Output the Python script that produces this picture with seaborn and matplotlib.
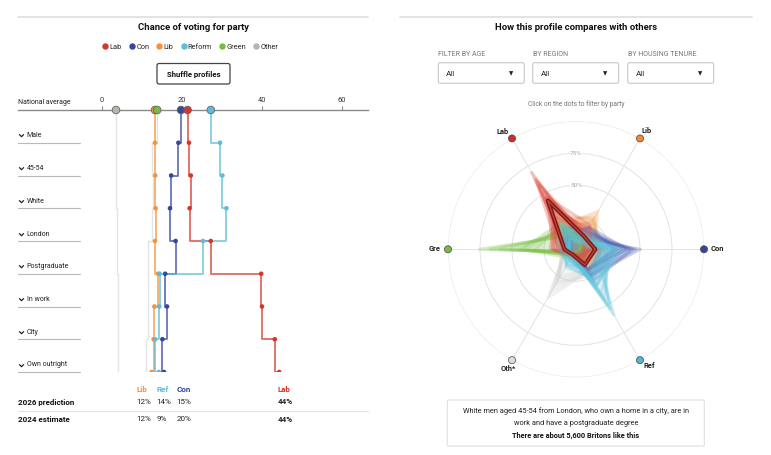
import numpy as np
import pandas as pd
import matplotlib
matplotlib.use("Agg")
import matplotlib.pyplot as plt
import seaborn as sns
from matplotlib.patches import FancyBboxPatch
from matplotlib.lines import Line2D
from matplotlib.path import Path

W, H = 771, 455

COLORS = {"Lab": "#d7352b", "Con": "#3546a0", "Lib": "#f5923a",
          "Reform": "#5bbdd6", "Green": "#76bd43", "Other": "#b9b5ab"}
FADED = "#e4e4e4"

# left chart: chance of voting, national average then each added trait
rows = ["National average", "Male", "45-54", "White", "London",
        "Postgraduate", "In work", "City", "Own outright"]
lab = [21.4, 21.75, 22.2, 21.9, 27.2, 39.8, 40.0, 43.2, 44.3]
con = [19.75, 19.1, 17.3, 17.0, 18.4, 15.8, 16.25, 15.1, 15.5]
lib = [13.25, 13.25, 13.3, 13.4, 13.25, 14.0, 13.1, 12.9, 12.4]
reform = [27.2, 29.5, 30.1, 31.1, 25.25, 14.4, 14.3, 13.3, 14.2]
green = [13.8, 12.4, 12.8, 12.5, 11.6, 11.4, 11.5, 11.0, 10.0]
other = [3.5, 3.6, 3.6, 3.7, 3.8, 3.9, 3.9, 3.9, 3.8]

# summary table under the chart
table_parties = ["Lib", "Ref", "Con", "Lab"]
table_colors = [COLORS["Lib"], COLORS["Reform"], COLORS["Con"], COLORS["Lab"]]
pred_2026 = [12, 14, 15, 44]
est_2024 = [12, 9, 20, 44]

# radar: axis order counter-clockwise from the right
radar_axes = ["Con", "Lib", "Lab", "Gre", "Oth*", "Ref"]
radar_angles = [0, 60, 120, 180, 240, 300]
radar_colors = ["#3546a0", "#f0892f", "#cc2f25", "#76bd43", "#dedede", "#4fb7d0"]
profile = [15, 12, 44, 9, 5, 14]

# rough sample of other profiles, grouped by leading party (Con, Lib, Lab, Gre, Oth, Ref)
cloud_oth = [[8, 6, 14, 8, 44, 20], [10, 7, 16, 8, 38, 20], [12, 8, 18, 9, 33, 20],
             [14, 10, 18, 10, 28, 20], [12, 9, 22, 12, 25, 18], [16, 10, 14, 8, 30, 24]]
cloud_lib = [[14, 34, 22, 8, 4, 10], [16, 30, 24, 8, 4, 12], [18, 27, 22, 9, 5, 14],
             [20, 24, 20, 10, 6, 16], [16, 22, 26, 12, 6, 12], [22, 26, 16, 8, 6, 18],
             [12, 28, 30, 10, 5, 8]]
cloud_con = [[50, 10, 8, 4, 4, 24], [46, 12, 10, 4, 5, 23], [42, 14, 12, 5, 5, 22],
             [38, 16, 14, 6, 6, 20], [35, 18, 16, 6, 6, 19], [32, 16, 20, 8, 6, 18],
             [30, 20, 18, 8, 6, 18], [44, 16, 8, 4, 4, 28], [40, 20, 12, 5, 5, 18]]
cloud_gre = [[3, 5, 12, 76, 2, 2], [4, 6, 13, 68, 3, 3], [5, 7, 15, 60, 3, 4],
             [6, 8, 17, 52, 4, 5], [7, 9, 19, 45, 5, 6], [8, 10, 21, 38, 6, 8],
             [10, 12, 22, 32, 6, 10], [6, 8, 24, 42, 8, 6]]
cloud_lab = [[6, 8, 70, 6, 4, 6], [8, 10, 64, 8, 4, 6], [8, 12, 58, 10, 4, 8],
             [10, 14, 52, 12, 5, 7], [12, 16, 47, 10, 5, 10], [10, 12, 44, 18, 6, 10],
             [14, 18, 40, 14, 5, 9], [16, 14, 36, 16, 6, 12], [12, 20, 34, 20, 6, 8],
             [18, 16, 30, 18, 7, 11], [6, 14, 62, 14, 4, 4], [12, 22, 48, 8, 4, 6],
             [20, 12, 28, 12, 8, 20]]
cloud_ref = [[14, 6, 8, 4, 6, 60], [18, 6, 8, 4, 6, 54], [22, 7, 9, 5, 7, 50],
             [26, 8, 10, 5, 7, 44], [30, 8, 10, 5, 8, 39], [32, 9, 12, 6, 8, 33],
             [28, 10, 14, 6, 10, 32], [24, 10, 16, 8, 14, 28], [34, 12, 14, 6, 8, 26],
             [20, 12, 18, 8, 16, 26], [26, 14, 20, 10, 10, 20], [22, 12, 22, 12, 14, 18],
             [30, 16, 18, 8, 10, 22], [18, 14, 24, 14, 12, 22], [36, 10, 10, 6, 6, 32]]

sns.set_theme(style="white")
plt.rcParams["font.family"] = ["Roboto", "DejaVu Sans"]

fig = plt.figure(figsize=(W / 100, H / 100), dpi=100)

# overlay in pixel coordinates for the page furniture
ov = fig.add_axes([0, 0, 1, 1])
ov.set_xlim(0, W)
ov.set_ylim(H, 0)
ov.axis("off")

ov.plot([18, 368], [17, 17], color="#dedede", lw=1.2)
ov.plot([400, 752], [17, 17], color="#dedede", lw=1.2)

ov.text(193, 27, "Chance of voting for party", ha="center", va="center",
        fontsize=6.8, weight="bold", color="#111")
handles = [Line2D([], [], marker="o", ls="", color=COLORS[p], markersize=3.6) for p in COLORS]
ov.legend(handles, list(COLORS), loc="center", bbox_to_anchor=(190, 47),
          bbox_transform=ov.transData, ncol=6, frameon=False, fontsize=5.3,
          handletextpad=0.05, columnspacing=0.9, handlelength=1,
          borderaxespad=0, borderpad=0)
ov.add_patch(FancyBboxPatch((157, 63.5), 73, 20.5, boxstyle="round,pad=0,rounding_size=2",
                            fc="white", ec="#444", lw=0.9))
ov.text(193.5, 74, "Shuffle profiles", ha="center", va="center", fontsize=5.6,
        weight="bold", color="#111")

# ---- left step chart
ax = fig.add_axes([18 / W, 1 - 372 / H, 350 / W, 262 / H])
ax.set_facecolor("none")

series = {"Lab": lab, "Con": con, "Lib": lib, "Reform": reform,
          "Green": green, "Other": other}
df = pd.concat([pd.DataFrame({"party": k, "row": range(len(rows)), "value": v})
                for k, v in series.items()], ignore_index=True)
faded = df[df.party.isin(["Green", "Other"])]
main = df[df.party.isin(["Lib", "Reform", "Con", "Lab"])]

sns.lineplot(data=faded, x="value", y="row", hue="party",
             palette={"Green": FADED, "Other": FADED}, orient="y", sort=False,
             estimator=None, drawstyle="steps-pre", lw=1, legend=False, ax=ax)
sns.lineplot(data=main, x="value", y="row", hue="party", palette=COLORS,
             orient="y", sort=False, estimator=None, drawstyle="steps-pre",
             lw=1.3, alpha=0.75, legend=False, ax=ax)
sns.scatterplot(data=main[main.row > 0], x="value", y="row", hue="party",
                palette=COLORS, s=11, linewidth=0, legend=False, ax=ax, zorder=4)
nat = df[df.row == 0].set_index("party").loc[["Other", "Lib", "Green", "Con", "Lab", "Reform"]].reset_index()
sns.scatterplot(data=nat, x="value", y="row", hue="party", palette=COLORS, s=30,
                edgecolor="#666", linewidth=0.6, legend=False, clip_on=False,
                ax=ax, zorder=5)

ax.set_xlim(-21, 66.5)
ax.set_ylim(8, 0)
for s in ["left", "right", "bottom"]:
    ax.spines[s].set_visible(False)
ax.spines["top"].set_color("#8a8a8a")
ax.spines["top"].set_linewidth(1)
ax.xaxis.tick_top()
ax.set_xticks([0, 20, 40, 60])
ax.tick_params(axis="x", direction="out", length=3, width=0.8, color="#8a8a8a",
               labelsize=5.4, labelcolor="#333", pad=1.5)
ax.set_yticks([])
ax.set_xlabel("")
ax.set_ylabel("")

chevron = Path([(-1, 0.5), (0, -0.5), (1, 0.5)], [Path.MOVETO, Path.LINETO, Path.LINETO])
ov.text(18, 103, rows[0], ha="left", va="center", fontsize=5, color="#222")
for i in range(1, len(rows)):
    y = 110 + i * 262 / 8
    ov.plot(21.3, y - 7.5, marker=chevron, ms=3.4, mfc="none", mec="#222", mew=0.9)
    ov.text(26.7, y - 7, rows[i], ha="left", va="center", fontsize=5, color="#222")
    ov.plot([18, 80], [y, y], color="#b8b8b8", lw=0.8)

col_x = [136.7, 156.7, 176.7, 277.7]
for x, p, c in zip(col_x, table_parties, table_colors):
    ov.text(x, 389.5, p, ha="left", va="center", fontsize=5.8, weight="bold", color=c)
for y, name, vals in [(402, "2026 prediction", pred_2026), (419, "2024 estimate", est_2024)]:
    ov.text(18, y, name, ha="left", va="center", fontsize=5.8, weight="bold", color="#111")
    for x, p, v in zip(col_x, table_parties, vals):
        ov.text(x, y, f"{v}%", ha="left", va="center", fontsize=5.8,
                weight="bold" if p == "Lab" else "normal", color="#222")
ov.plot([18, 368], [410.5, 410.5], color="#e2e2e2", lw=0.8)

# ---- right panel furniture
ov.text(576, 27, "How this profile compares with others", ha="center", va="center",
        fontsize=6.8, weight="bold", color="#111")
filters = ["FILTER BY AGE", "BY REGION", "BY HOUSING TENURE"]
for x0, lab_txt in zip([438.3, 532.7, 627.7], filters):
    ov.text(x0, 54, lab_txt, ha="left", va="center", fontsize=5, color="#777")
    ov.add_patch(FancyBboxPatch((x0, 62.7), 86, 20.6, boxstyle="round,pad=0,rounding_size=2",
                                fc="white", ec="#c8c8c8", lw=0.8))
    ov.text(x0 + 7.7, 73.5, "All", ha="left", va="center", fontsize=5.8, color="#222")
    ov.text(x0 + 72.7, 74, "\u25bc", ha="center", va="center", fontsize=4,
            family="DejaVu Sans", color="#222")
ov.text(576, 104, "Click on the dots to filter by party", ha="center", va="center",
        fontsize=4.8, color="#777")

# ---- radar
ax2 = fig.add_axes([448 / W, 1 - 377.3 / H, 256 / W, 256 / H], projection="polar")
ax2.set_facecolor("none")
ax2.set_ylim(0, 100)
ax2.set_thetagrids(radar_angles, labels=[""] * 6)
ax2.set_rgrids([25, 50, 75, 100], labels=[""] * 4)
ax2.grid(color="#e3e3e3", lw=0.7)
ax2.spines["polar"].set_visible(False)
ax2.set_axisbelow(True)

theta = np.deg2rad(radar_angles + [radar_angles[0]])
for group, c in [(cloud_oth, "#d2d2d2"), (cloud_lib, "#f3a35a"), (cloud_con, "#4557b2"),
                 (cloud_gre, "#7cc24a"), (cloud_lab, "#e0473c"), (cloud_ref, "#5cc3dc")]:
    for prof in group:
        r = prof + [prof[0]]
        ax2.fill(theta, r, color=c, alpha=0.035, lw=0)
        ax2.plot(theta, r, color=c, alpha=0.28, lw=2.2, solid_joinstyle="miter")

r = profile + [profile[0]]
ax2.plot(theta, r, color="#7d1d17", lw=3, solid_joinstyle="round", zorder=5)
ax2.plot(theta, r, color="#c9463c", lw=0.8, zorder=5)

for rv, t in [(50, "50%"), (75, "75%")]:
    ax2.text(np.deg2rad(90), rv, t, ha="center", va="center", fontsize=4.6, color="#aaa",
             bbox=dict(fc="white", ec="none", pad=0.3, alpha=0.8), zorder=3)

ax2.scatter(np.deg2rad(radar_angles), [100] * 6, c=radar_colors, s=26,
            edgecolors="#444", linewidths=0.5, clip_on=False, zorder=6)

for (x, y, ha), t in zip([(711, 249.3, "left"), (642, 131, "left"), (508.5, 132, "right"),
                          (441, 249.3, "right"), (508.5, 369, "center"), (643.5, 366.5, "left")],
                         radar_axes):
    ov.text(x, y, t, ha=ha, va="center", fontsize=5.4, weight="bold", color="#222")

# info box
ov.add_patch(FancyBboxPatch((447.3, 400), 257, 46, boxstyle="round,pad=0,rounding_size=1",
                            fc="white", ec="#e0e0e0", lw=0.8))
ov.text(576, 410.7, "White men aged 45-54 from London, who own a home in a city, are in",
        ha="center", va="center", fontsize=5.3, color="#222")
ov.text(576, 423.3, "work and have a postgraduate degree", ha="center", va="center",
        fontsize=5.3, color="#222")
ov.text(576, 435.7, "There are about 5,600 Britons like this", ha="center", va="center",
        fontsize=5.3, weight="bold", color="#111")

fig.savefig("out.png", dpi=100)
